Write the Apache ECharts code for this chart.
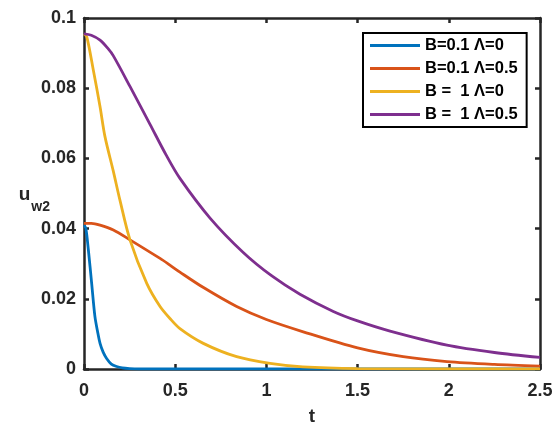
<!DOCTYPE html>
<html>
<head>
<meta charset="utf-8">
<script src="https://cdn.jsdelivr.net/npm/echarts@6/dist/echarts.min.js"></script>
<style>
  html, body { margin: 0; padding: 0; background: #fff; }
  #chart { width: 555px; height: 425px; }
</style>
</head>
<body>
<div id="chart"></div>
<script>
// Time samples and wall velocity u_w2 for each parameter set
const tBlue = [0, 0.01, 0.024, 0.042, 0.06, 0.075, 0.088, 0.105, 0.124, 0.15, 0.179, 0.21, 0.25, 0.3, 0.5, 1.0, 1.5, 2.0, 2.5];
const uBlue = [0.0410, 0.0401, 0.0339, 0.0244, 0.0149, 0.0105, 0.0073, 0.0048, 0.0030, 0.0014, 0.0007, 0.0003, 0.0001, 0, 0, 0, 0, 0, 0];

const tOrange = [0, 0.04, 0.088, 0.161, 0.252, 0.417, 0.471, 0.526, 0.655, 0.837, 1.0, 1.202, 1.5, 1.75, 1.99, 2.25, 2.5];
const uOrange = [0.0415, 0.0415, 0.0410, 0.0396, 0.0368, 0.0315, 0.0296, 0.0276, 0.0232, 0.0178, 0.0141, 0.0106, 0.0060, 0.0035, 0.0021, 0.0013, 0.0008];

const tYellow = [0, 0.015, 0.051, 0.088, 0.115, 0.16, 0.197, 0.252, 0.344, 0.417, 0.471, 0.526, 0.654, 0.837, 1.02, 1.2, 1.5, 2.0, 2.5];
const uYellow = [0.0955, 0.0947, 0.0852, 0.0747, 0.0662, 0.0565, 0.0481, 0.0368, 0.0244, 0.0178, 0.0144, 0.0115, 0.0073, 0.0035, 0.0016, 0.0006, 0.0001, 0, 0];

const tPurple = [0, 0.04, 0.088, 0.13, 0.161, 0.252, 0.362, 0.45, 0.526, 0.691, 0.873, 1.03, 1.184, 1.367, 1.5, 1.678, 1.99, 2.25, 2.5];
const uPurple = [0.0955, 0.0951, 0.0937, 0.0914, 0.0892, 0.0805, 0.0697, 0.0610, 0.0543, 0.0430, 0.0332, 0.0265, 0.0213, 0.0164, 0.0137, 0.0108, 0.0068, 0.0047, 0.0033];

const seriesNames = ['B=0.1 \u039B=0', 'B=0.1 \u039B=0.5', 'B =  1 \u039B=0', 'B =  1 \u039B=0.5'];
const seriesColors = ['#0072BD', '#D95319', '#EDB120', '#7E2F8E'];

const xTicks = { min: 0, max: 2.5, interval: 0.5 };
const yTicks = { min: 0, max: 0.1, interval: 0.02 };

function pairs(t, u) { return t.map((v, i) => [v, u[i]]); }
const seriesData = [pairs(tBlue, uBlue), pairs(tOrange, uOrange), pairs(tYellow, uYellow), pairs(tPurple, uPurple)];

const axisColor = '#262626';
const font = 'Liberation Sans, Arial, sans-serif';

const chart = echarts.init(document.getElementById('chart'), null, { renderer: 'canvas' });

const boxAxis = {
  type: 'value',
  axisLine: { show: true, onZero: false, lineStyle: { color: axisColor, width: 2.5 } },
  axisTick: { show: true, inside: true, length: 5, lineStyle: { color: axisColor, width: 2.5 } },
  axisLabel: { show: false },
  splitLine: { show: false }
};

chart.setOption({
  animation: false,
  backgroundColor: '#fff',
  grid: { left: 84, right: 15, top: 18, bottom: 56, containLabel: false, outerBoundsMode: 'none' },
  xAxis: [
    Object.assign({}, boxAxis, {
      position: 'bottom',
      min: xTicks.min, max: xTicks.max, interval: xTicks.interval,
      axisLabel: { show: true, margin: 13, color: axisColor, fontSize: 18, fontWeight: 'bold', fontFamily: font },
      name: 't', nameLocation: 'middle', nameGap: 38, nameMoveOverlap: false,
      nameTextStyle: { color: axisColor, fontSize: 19, fontWeight: 'bold', fontFamily: font }
    }),
    Object.assign({}, boxAxis, {
      position: 'top',
      min: xTicks.min, max: xTicks.max, interval: xTicks.interval
    })
  ],
  yAxis: [
    Object.assign({}, boxAxis, {
      position: 'left',
      min: yTicks.min, max: yTicks.max, interval: yTicks.interval,
      axisLabel: { show: true, margin: 8, color: axisColor, fontSize: 18, fontWeight: 'bold', fontFamily: font },
      name: '{u|u}{s|w2}', nameLocation: 'middle', nameGap: 34, nameRotate: 0, nameMoveOverlap: false,
      nameTextStyle: {
        color: axisColor, fontFamily: font, fontWeight: 'bold',
        padding: [12, 0, 0, 0],
        rich: {
          u: { fontSize: 19, fontWeight: 'bold', fontFamily: font, color: axisColor, verticalAlign: 'bottom', padding: [0, 1, 10, 0] },
          s: { fontSize: 14, fontWeight: 'bold', fontFamily: font, color: axisColor, verticalAlign: 'bottom' }
        }
      }
    }),
    Object.assign({}, boxAxis, {
      position: 'right',
      min: yTicks.min, max: yTicks.max, interval: yTicks.interval
    })
  ],
  legend: {
    orient: 'vertical',
    left: 363, top: 33,
    padding: [4, 9, 4, 7],
    itemGap: 6,
    itemWidth: 50, itemHeight: 3,
    icon: 'rect',
    backgroundColor: '#fff',
    borderColor: '#000', borderWidth: 2,
    textStyle: { color: '#000', fontSize: 16.5, fontWeight: 'bold', fontFamily: font, lineHeight: 16 },
    data: seriesNames
  },
  series: seriesData.map((d, i) => ({
    name: seriesNames[i],
    type: 'line',
    data: d,
    showSymbol: false,
    symbol: 'none',
    smooth: 0.3,
    clip: true,
    color: seriesColors[i],
    lineStyle: { color: seriesColors[i], width: 2.8 },
    z: 2 + i
  }))
});
</script>
</body>
</html>
